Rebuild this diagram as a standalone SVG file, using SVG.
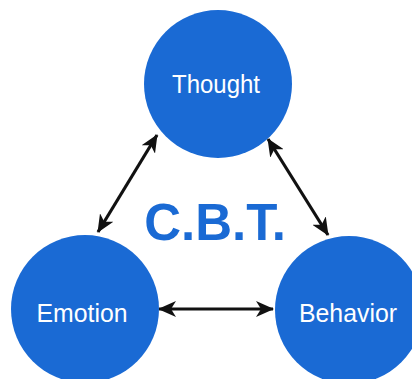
<svg xmlns="http://www.w3.org/2000/svg" width="412" height="379" viewBox="0 0 412 379">
<style>
.node{fill:#1a6ad4}
.lbl{fill:#ffffff;font-family:"Liberation Sans",Arial,sans-serif;font-size:25px;text-anchor:middle}
.title{fill:#1a6ad4;font-family:"Liberation Sans",Arial,sans-serif;font-size:51px;font-weight:bold;text-anchor:middle}
.conn{stroke:#111;stroke-width:3.2;fill:none;marker-start:url(#ah);marker-end:url(#ah)}
</style>
<defs>
<marker id="ah" viewBox="0 0 18 16" refX="17" refY="8" markerWidth="18" markerHeight="16" markerUnits="userSpaceOnUse" orient="auto-start-reverse">
<path d="M0,0 L18,8 L0,16 L5,8 z" fill="#111"/>
</marker>
</defs>
<rect width="412" height="379" fill="#ffffff"/>
<g id="connectors">
<line class="conn" x1="157" y1="135" x2="98" y2="232"/>
<line class="conn" x1="268" y1="139" x2="328" y2="235"/>
<line class="conn" x1="159" y1="309" x2="273" y2="309"/>
</g>
<g id="thought"><circle class="node" cx="218" cy="84" r="74"/><text class="lbl" x="216" y="93" textLength="88" lengthAdjust="spacingAndGlyphs">Thought</text></g>
<g id="emotion"><circle class="node" cx="85" cy="309" r="74"/><text class="lbl" x="82" y="322" textLength="91" lengthAdjust="spacingAndGlyphs">Emotion</text></g>
<g id="behavior"><circle class="node" cx="349" cy="310" r="74"/><text class="lbl" x="348" y="322" textLength="98" lengthAdjust="spacingAndGlyphs">Behavior</text></g>
<g id="title"><text class="title" x="215" y="240">C.B.T.</text></g>
</svg>
